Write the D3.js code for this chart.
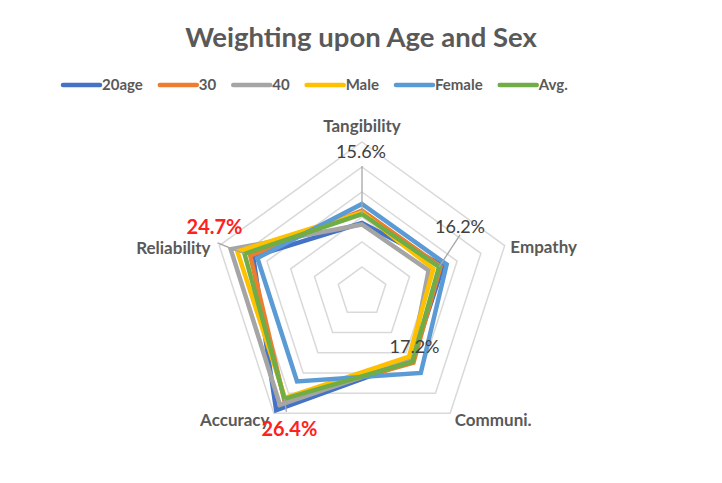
<!DOCTYPE html>
<html><head><meta charset="utf-8">
<script src="https://cdn.jsdelivr.net/npm/d3@7"></script>
<style>body{margin:0;background:#fff}svg{display:block;font-family:Lato,"Open Sans",sans-serif}</style>
</head><body><svg id="c" width="722" height="483"></svg>
<script>
const axes = ["Tangibility","Empathy","Communi.","Accuracy","Reliability"];
const seriesNames = ["20age","30","40","Male","Female","Avg."];
const colors = ["#4472C4","#ED7D31","#A5A5A5","#FFC000","#5B9BD5","#70AD47"];
const v20age  = [0.138,0.171,0.170,0.292,0.229];
const v30     = [0.163,0.165,0.175,0.265,0.235];
const v40     = [0.135,0.140,0.168,0.279,0.276];
const vMale   = [0.159,0.150,0.160,0.262,0.262];
const vFemale = [0.176,0.178,0.200,0.221,0.220];
const vAvg    = [0.156,0.162,0.172,0.264,0.247];
const values = [v20age,v30,v40,vMale,vFemale,vAvg];
const ringTicks = [0.05,0.10,0.15,0.20,0.25,0.30];
const avgLabels = ["15.6%","16.2%","17.2%","26.4%","24.7%"];

const svg = d3.select("#c");
const cx = 362, cy = 292;
const r = d3.scaleLinear().domain([0,0.30]).range([0,150]);
const ang = d3.scaleLinear().domain([0,axes.length]).range([0,2*Math.PI]);
const pt = (i,v)=>[cx + r(v)*Math.sin(ang(i)), cy - r(v)*Math.cos(ang(i))];

svg.append("text").attr("x",361).attr("y",47).attr("text-anchor","middle")
  .attr("font-size",27.5).attr("font-weight","bold").attr("fill","#595959")
  .text("Weighting upon Age and Sex");

// grid rings
const ringLine = d3.line().curve(d3.curveLinearClosed);
svg.append("g").selectAll("path").data(ringTicks).join("path")
  .attr("d",t=>ringLine(axes.map((a,i)=>pt(i,t))))
  .attr("fill","none").attr("stroke","#D9D9D9").attr("stroke-width",1.5);

// axis labels
const labOff = [[0,-16],[39,1],[43,7],[-39,7],[-46,2]];
svg.append("g").selectAll("text").data(axes).join("text")
  .attr("x",(d,i)=>pt(i,0.30)[0]+labOff[i][0])
  .attr("y",(d,i)=>pt(i,0.30)[1]+labOff[i][1])
  .attr("text-anchor","middle").attr("dy","0.35em")
  .attr("font-size",17).attr("font-weight","bold").attr("fill","#595959")
  .text(d=>d);

// series
const g = svg.append("g");
values.forEach((vals,s)=>{
  g.append("path").attr("d",ringLine(vals.map((v,i)=>pt(i,v))))
   .attr("fill","none").attr("stroke",colors[s]).attr("stroke-width",4.5)
   .attr("stroke-linejoin","miter");
});

// avg data labels with leader lines
const lblPos = [[-1,-62],[21,-40],[2,-15],[5,30],[-30,-27]];
const leaderEnd = [[0,-48],[21,-32],null,[2,13],[-27,-11]];
const lblRed = [false,false,false,true,true];
vAvg.forEach((v,i)=>{
  const [x,y] = pt(i,v);
  if(leaderEnd[i]) svg.append("line").attr("x1",x).attr("y1",y)
     .attr("x2",x+leaderEnd[i][0]).attr("y2",y+leaderEnd[i][1])
     .attr("stroke","#A6A6A6").attr("stroke-width",1.3);
  svg.append("text").attr("x",x+lblPos[i][0]).attr("y",y+lblPos[i][1])
    .attr("text-anchor","middle").attr("dy","0.35em")
    .attr("font-size",lblRed[i]?20:18).attr("font-weight",lblRed[i]?"bold":"normal")
    .attr("fill",lblRed[i]?"#FF2020":"#404040").text(avgLabels[i]);
});

// legend
const lg = svg.append("g");
let lx = 63; const ly = 85;
seriesNames.forEach((n,s)=>{
  lg.append("line").attr("x1",lx).attr("x2",lx+37).attr("y1",ly).attr("y2",ly)
    .attr("stroke",colors[s]).attr("stroke-width",4.5).attr("stroke-linecap","round");
  const t = lg.append("text").attr("x",lx+39).attr("y",ly).attr("dy","0.35em")
    .attr("font-size",15).attr("font-weight","bold").attr("fill","#595959").text(n);
  lx += 39 + t.node().getComputedTextLength() + 17;
});
</script></body></html>
